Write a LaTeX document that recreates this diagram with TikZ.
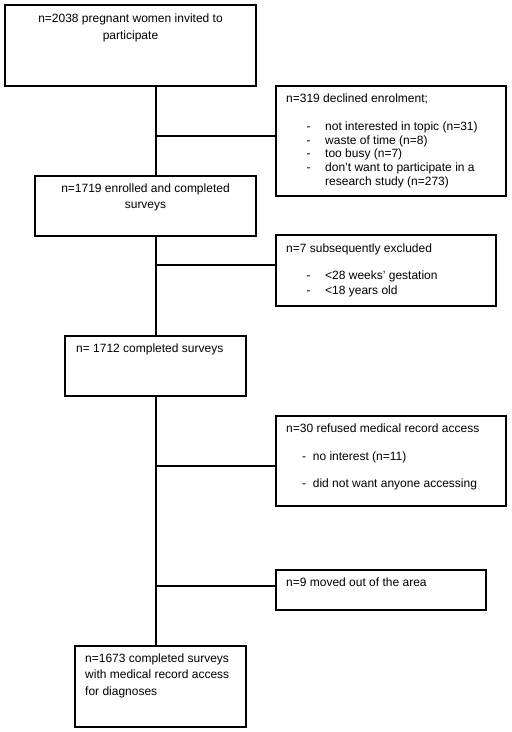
\documentclass[tikz,border=0pt]{standalone}
\usepackage{fontspec}
\setmainfont{Liberation Sans}
\begin{document}
\begin{tikzpicture}[x=1pt,y=-1pt,
  box/.style={draw,line width=2pt,inner sep=0pt},
  lnk/.style={line width=2pt},
  txt/.style={inner sep=0pt,font=\fontsize{12}{14}\selectfont},
  lt/.style={txt,anchor=base west},
  ct/.style={txt,anchor=base}]
\useasboundingbox (0,0) rectangle (512,732);
% boxes
\node[box,minimum width=251pt,minimum height=81pt] (b1) at (130.5,45.5) {};
\node[box,minimum width=230pt,minimum height=110pt] (b2) at (391,141) {};
\node[box,minimum width=221pt,minimum height=60pt] (b3) at (145.5,206) {};
\node[box,minimum width=220pt,minimum height=71pt] (b4) at (386,270.5) {};
\node[box,minimum width=181pt,minimum height=60pt] (b5) at (155.5,366) {};
\node[box,minimum width=230pt,minimum height=90pt] (b6) at (391,461) {};
\node[box,minimum width=210pt,minimum height=40pt] (b7) at (381,590) {};
\node[box,minimum width=171pt,minimum height=81pt] (b8) at (160.5,686.5) {};
% spine and branch points
\coordinate (s1) at (156,86);
\coordinate (j1) at (156,135.5);
\coordinate (j2) at (156,265);
\coordinate (j3) at (156,466);
\coordinate (j4) at (156,586);
\draw[lnk] (s1) -- (s1 |- b3.north);
\draw[lnk] (j1) -- (j1 -| b2.west);
\draw[lnk] (s1 |- b3.south) -- (s1 |- b5.north);
\draw[lnk] (j2) -- (j2 -| b4.west);
\draw[lnk] (s1 |- b5.south) -- (s1 |- b8.north);
\draw[lnk] (j3) -- (j3 -| b6.west);
\draw[lnk] (j4) -- (j4 -| b7.west);
% texts box1
\node[ct] (t1a) at (130.5,22.5) {n=2038 pregnant women invited to};
\node[ct] (t1b) at (130.5,39) {participate};
% box2
\node[lt] (t2a) at (286,102.7) {n=319 declined enrolment;};
\node[lt] (t2d1) at (306.5,130.5) {-};
\node[lt] (t2d2) at (306.5,144) {-};
\node[lt] (t2d3) at (306.5,157.5) {-};
\node[lt] (t2d4) at (306.5,171) {-};
\node[lt] (t2b) at (325,130.5) {not interested in topic (n=31)};
\node[lt] (t2c) at (325,144) {waste of time (n=8)};
\node[lt] (t2e) at (325,157.5) {too busy (n=7)};
\node[lt] (t2f) at (325,171) {don’t want to participate in a};
\node[lt] (t2g) at (325,185) {research study (n=273)};
% box3
\node[ct] (t3a) at (145.5,192) {n=1719 enrolled and completed};
\node[ct] (t3b) at (145.5,208) {surveys};
% box4
\node[lt] (t4a) at (286,252) {n=7 subsequently excluded};
\node[lt] (t4d1) at (306.5,279) {-};
\node[lt] (t4d2) at (306.5,294) {-};
\node[lt] (t4b) at (325,279) {<28 weeks' gestation};
\node[lt] (t4c) at (325,294) {<18 years old};
% box5
\node[lt] (t5a) at (76,352) {n= 1712 completed surveys};
% box6
\node[lt] (t6a) at (286,432) {n=30 refused medical record access};
\node[lt] (t6b) at (302,460) {-\ \ no interest (n=11)};
\node[lt] (t6c) at (302,487) {-\ \ did not want anyone accessing};
% box7
\node[lt] (t7a) at (286,586) {n=9 moved out of the area};
% box8
\node[lt] (t8a) at (85,662) {n=1673 completed surveys};
\node[lt] (t8b) at (85,678) {with medical record access};
\node[lt] (t8c) at (85,695) {for diagnoses};
\end{tikzpicture}
\end{document}
